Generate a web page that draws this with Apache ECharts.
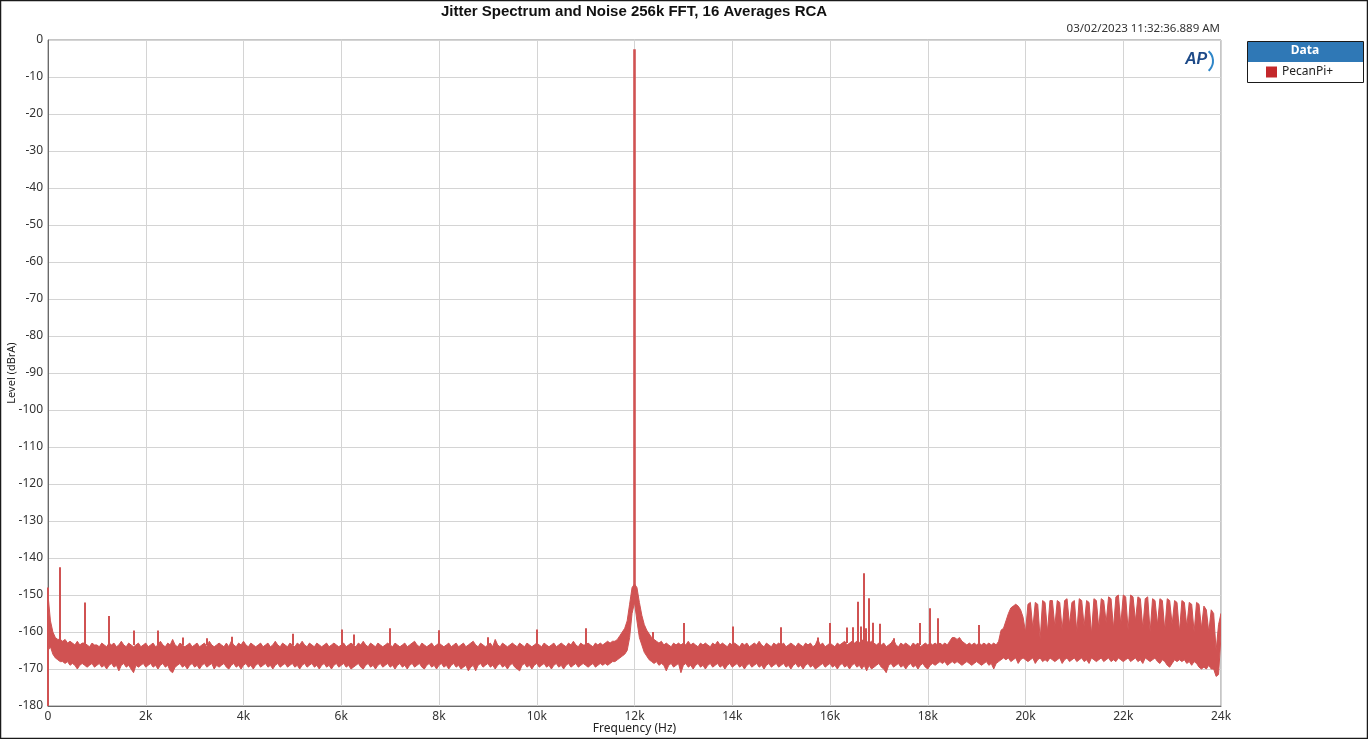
<!DOCTYPE html>
<html><head><meta charset="utf-8">
<script src="https://cdn.jsdelivr.net/npm/echarts@6/dist/echarts.min.js"></script>
<style>html,body{margin:0;padding:0;background:#fff}#c{width:1368px;height:739px}</style>
</head><body><div id="c"></div>
<script>
// ---- data ----
const FREQ_STEP_HZ = 50;   // spacing of the envelope samples below (index 0 = 0 Hz)

// upper edge of the noise floor band (dBrA)
const noiseTop = [
-150,-157,-160,-161.5,-162,-162,-162.5,-162,-163,-162.5,
-163,-163.5,-162.5,-163.5,-163,-163,-163.5,-164,-163,-163.5,
-163.5,-164,-163,-163.5,-164,-163,-163.5,-163,-164,-163.5,
-162.5,-163.5,-164,-163,-163.5,-164,-163.5,-163,-164,-163.5,
-163,-164,-163.5,-163,-164,-163.5,-162.5,-163.5,-164,-163,
-163.5,-162,-163.5,-164,-163,-163.5,-164,-163.5,-163,-164,
-163.5,-163,-164,-163.5,-163,-164,-162.5,-163.5,-164,-163.5,
-163,-163.5,-164,-163,-164,-162.5,-163.5,-164,-163,-163.5,
-162.5,-163.5,-164,-163,-163.5,-164,-163.5,-163,-164,-163.5,
-163,-164,-163.5,-162.5,-163.5,-164,-163,-163.5,-164,-163,
-163.5,-164,-163,-163.5,-162.5,-163.5,-164,-163,-163.5,-164,
-163,-163.5,-164,-163.5,-163,-164,-163.5,-163,-163.5,-164,
-163.5,-163,-164,-163.5,-163,-163.5,-164,-163,-163.5,-162.5,
-163.5,-164,-163,-163.5,-164,-163,-163.5,-164,-163.5,-163,
-163.5,-164,-163,-163.5,-164,-163.5,-163,-164,-163.5,-163,
-162.5,-163.5,-164,-163,-163.5,-164,-163.5,-163,-164,-163.5,
-163,-163.5,-164,-163.5,-163,-164,-163.5,-163,-164,-163.5,
-163,-164,-163.5,-163,-162.5,-163.5,-164,-163,-163.5,-164,
-163.5,-163,-164,-162,-163.5,-164,-163,-163.5,-164,-163.5,
-163,-163.5,-164,-163,-163.5,-164,-163,-163.5,-164,-163.5,
-163,-163.5,-164,-163,-163.5,-164,-163.5,-163,-164,-163.5,
-163,-163.5,-164,-163,-163.5,-162.5,-163.5,-164,-163,-163.5,
-163.5,-163,-163.5,-164,-163,-163.5,-163,-163.5,-163,-162.5,
-163,-162.5,-162.5,-162,-161,-160,-159,-157,-152.5,-148,
-147,-148,-152,-155.5,-158,-159.5,-160.5,-161.5,-162,-162.5,
-163,-162.5,-163.5,-163,-163.5,-164,-163,-163.5,-163,-163.5,
-163,-163.5,-162.5,-163.5,-163,-163.5,-164,-163,-163.5,-163,
-163.5,-164,-163,-163.5,-162.5,-163.5,-163,-163.5,-164,-163,
-163.5,-163,-163.5,-164,-163,-163.5,-163,-164,-163.5,-163,
-163.5,-162.5,-163.5,-164,-163,-163.5,-164,-163,-163.5,-163,
-163.5,-163,-164,-163.5,-163,-163.5,-164,-163,-163.5,-164,
-163,-163.5,-163,-164,-163.5,-162,-163.5,-163,-164,-163.5,
-163,-163.5,-164,-163,-163.5,-163,-162.5,-163.5,-163,-162.5,
-163,-162.5,-163,-162,-163,-162.5,-163,-162.5,-163,-163.5,
-163,-163.5,-163,-164,-163.5,-163,-162,-163.5,-164,-163,
-163.5,-163,-163.5,-164,-163,-163.5,-163,-164,-163.5,-163,
-163.5,-163,-163.5,-163,-163.5,-163,-163.5,-163,-163.5,-162.5,
-161.5,-161.5,-162,-161.5,-162.5,-163,-163.5,-163,-163.5,-163,
-163.5,-163,-163.5,-163,-163.5,-163,-163.5,-163,-163.5,-162.5,
-159.5,-159,-157,-155,-153.5,-153,-152.5,-153,-154,-156,
-160,-152.5,-152,-159,-152,-152.5,-162,-151.5,-152,-160,
-151.5,-151.5,-158.5,-151.5,-152,-159.5,-151.5,-151,-158,-152,
-151.5,-160,-151,-151.5,-158.5,-151.5,-152,-160.5,-151,-151.5,
-159,-151,-151.5,-157.5,-150.5,-151,-159,-150.5,-150,-158,
-150,-150.5,-159.5,-150,-150.5,-157,-150.5,-151,-159,-151,
-150.5,-160,-151,-151.5,-158,-151,-151.5,-159.5,-151,-151.5,
-158,-151.5,-152,-160,-151.5,-152,-158.5,-152,-152.5,-160,
-152,-152.5,-159,-153,-154,-160,-154,-155,-165,-158,
-155
];

// lower edge of the noise floor band (dBrA)
const noiseBottom = [
-165,-164,-166,-167,-167.5,-168,-168,-168.5,-168,-169,
-168.5,-169,-170,-169,-168.5,-169,-169.5,-169,-168.5,-169.5,
-169,-168.5,-169.5,-169,-170,-169,-168.5,-169.5,-169,-170.5,
-169,-168.5,-169.5,-169,-170,-171,-169,-169.5,-169,-168.5,
-169.5,-169,-168.5,-169.5,-169,-170,-169,-168.5,-169.5,-169,
-170.5,-171,-169.5,-169,-168.5,-169.5,-169,-170,-169,-168.5,
-169.5,-169,-170,-169,-168.5,-169.5,-169,-168.5,-170,-169,
-169.5,-169,-168.5,-169.5,-170,-169,-168.5,-169.5,-169,-170,
-169,-168.5,-169.5,-169,-170,-169,-168.5,-169.5,-169,-168.5,
-169.5,-169,-170,-169,-168.5,-169.5,-169,-168.5,-169.5,-169,
-168.5,-169.5,-169,-170,-169,-168.5,-169.5,-169,-168.5,-169.5,
-169,-170,-169,-168.5,-169.5,-169,-170,-169,-168.5,-169.5,
-169,-168.5,-169.5,-169,-170,-169.5,-169,-168.5,-169.5,-170,
-169,-168.5,-169.5,-169,-170,-169,-168.5,-169.5,-169,-168.5,
-169.5,-169,-170,-169,-168.5,-169.5,-169,-170,-169,-168.5,
-169.5,-169,-168.5,-169.5,-170,-169,-168.5,-169.5,-169,-170,
-169,-168.5,-169.5,-169,-170,-169,-168.5,-169.5,-169,-170,
-169.5,-169,-170.5,-169.5,-169,-170.5,-169,-168.5,-169.5,-169,
-168.5,-169.5,-169,-170,-169,-168.5,-169.5,-169,-170,-169,
-168.5,-169.5,-170,-170.5,-169,-168.5,-169.5,-169,-170,-169,
-168.5,-169.5,-169,-168.5,-169.5,-169,-170,-169,-168.5,-169.5,
-169,-170,-169,-168.5,-169.5,-169,-168.5,-169.5,-169,-168.5,
-169,-169.5,-169,-168.5,-169.5,-169,-168.5,-169,-168.5,-169,
-168.5,-168,-168,-167.5,-167,-166.5,-166,-165,-161.5,-155,
-152,-157,-161.5,-163.5,-165.5,-166.5,-167.5,-168,-168.5,-168,
-169,-168.5,-169,-170.5,-169,-168.5,-169.5,-169,-168.5,-171,
-169,-168.5,-169.5,-169,-170,-169,-168.5,-169.5,-169,-170,
-169,-168.5,-169.5,-169,-168.5,-169.5,-169,-170,-169,-168.5,
-169.5,-169,-168.5,-169.5,-169,-170,-169,-168.5,-169.5,-169,
-168.5,-169.5,-169,-170,-169,-168.5,-169.5,-169,-168.5,-169.5,
-169,-168.5,-169.5,-169,-170,-169,-168.5,-169.5,-169,-170,
-169,-168.5,-169.5,-169,-170,-169.5,-169,-168.5,-169.5,-169,
-168.5,-169.5,-169,-170,-169,-168.5,-169.5,-169,-170,-169,
-168.5,-169.5,-169,-170,-169,-170.5,-169,-170,-169.5,-169,
-168.5,-169.5,-170,-171,-169,-168.5,-169.5,-169,-168.5,-169.5,
-169,-170,-169,-168.5,-169.5,-169,-170,-169,-168.5,-169.5,
-170,-169,-168.5,-169,-168.5,-168,-168.5,-168,-169,-168.5,
-168,-168.5,-168,-168.5,-169,-168.5,-168,-168.5,-169,-168.5,
-168,-168.5,-169,-168.5,-168,-169,-168.5,-170,-168.5,-168,
-167.5,-167,-167.5,-167,-168,-167.5,-167,-168.5,-167.5,-167,
-167.5,-168,-167.5,-167,-168.5,-167.5,-167,-168,-167.5,-168,
-167,-167.5,-168,-167.5,-167,-168.5,-167.5,-167,-168,-167.5,
-167,-168,-167.5,-167,-168,-167.5,-168.5,-167,-167.5,-168,
-167.5,-167,-168,-167.5,-167,-168,-167.5,-168,-167,-167.5,
-168,-167.5,-167,-168,-167.5,-167,-168,-167.5,-168.5,-167,
-167.5,-168,-167.5,-167,-168,-168.5,-167.5,-168,-169,-169.5,
-168.5,-167.5,-168,-167.5,-168,-167.5,-168.5,-168,-169,-168,
-168.5,-169.5,-170,-169.5,-170,-169,-170,-170,-172,-171.5,
-161
];

// discrete tones: frequency (Hz), peak (dBrA), base on the noise floor (dBrA)
const spikeFreqs = [0,250,750,1250,1750,2250,2750,3250,3750,5000,6000,6250,7000,8000,9000,10000,11000,12000,12375,13000,14000,15000,15750,16000,16350,16470,16570,16630,16690,16740,16800,16870,17020,17300,17840,18050,18210,19050];
const spikePeaks = [-148,-142.5,-152,-155.7,-159.6,-159.6,-161.5,-161.7,-161.3,-160.5,-159.3,-160.7,-159,-159.5,-161.4,-159.3,-159,-2.5,-160,-157.6,-158.5,-158.7,-161.5,-157.6,-158.8,-158.7,-151.8,-158.5,-144.1,-159,-150.9,-157.5,-157.8,-161.7,-157.6,-153.6,-156.3,-158.1];
const spikeBases = [-180,-163,-163.5,-163.5,-163.5,-163.5,-163.5,-163.5,-163.5,-163.5,-163.5,-163.5,-163.5,-163.5,-163.5,-163.5,-163.5,-150,-162.5,-163.5,-163.5,-163.5,-163.5,-163.5,-163,-163,-163,-163,-163,-163,-163,-163,-163.5,-163.5,-163.5,-163.5,-163.5,-163.5];

const xTickLabels = ['0','2k','4k','6k','8k','10k','12k','14k','16k','18k','20k','22k','24k'];
const titleText = 'Jitter Spectrum and Noise 256k FFT, 16 Averages RCA';
const timestampText = '03/02/2023 11:32:36.889 AM';
const seriesName = 'PecanPi+';
const legendTitle = 'Data';

// ---- chart ----
const RED = '#d05252';
const LEG_RED = '#c3282b';
const FONT = '"Noto Sans", "Open Sans", sans-serif';
const n = Math.min(noiseTop.length, noiseBottom.length);
const topData = [], bottomData = [];
for (let i = 0; i < n; i++) {
  topData.push([i * FREQ_STEP_HZ, noiseTop[i]]);
  bottomData.push([i * FREQ_STEP_HZ, noiseBottom[i]]);
}
const spikeData = spikeFreqs.map((f, i) => ({
  coords: [[f, spikeBases[i]], [f, spikePeaks[i]]],
  lineStyle: { width: f === 12000 ? 2.6 : 2 }
}));

function renderBand(params, api) {
  const pts = [];
  for (let i = 0; i < n; i++) pts.push(api.coord(topData[i]));
  for (let i = n - 1; i >= 0; i--) pts.push(api.coord(bottomData[i]));
  return { type: 'polygon', shape: { points: pts }, style: { fill: RED, stroke: RED, lineWidth: 1 } };
}

const chart = echarts.init(document.getElementById('c'), null, { renderer: 'canvas' });
chart.setOption({
  animation: false,
  backgroundColor: '#ffffff',
  grid: { left: 48, right: 147, top: 40, bottom: 33, outerBoundsMode: 'none', containLabel: false,
          show: true, borderColor: '#8c8c8c', borderWidth: 1, backgroundColor: 'transparent' },
  xAxis: {
    type: 'value', min: 0, max: 24000, interval: 2000,
    axisLine: { show: true, onZero: false, lineStyle: { color: '#6a6a6a', width: 1 } },
    axisTick: { show: false },
    axisLabel: { formatter: v => xTickLabels[Math.round(v / 2000)], color: '#333', fontSize: 12, fontFamily: FONT, margin: 5 },
    splitLine: { show: true, lineStyle: { color: '#d4d4d4', width: 1 } },
    name: 'Frequency (Hz)', nameLocation: 'middle', nameGap: 17, nameMoveOverlap: false,
    nameTextStyle: { color: '#222', fontSize: 12, fontFamily: FONT, verticalAlign: 'top' }
  },
  yAxis: {
    type: 'value', min: -180, max: 0, interval: 10,
    axisLine: { show: true, onZero: false, lineStyle: { color: '#6a6a6a', width: 1 } },
    axisTick: { show: false },
    axisLabel: { color: '#333', fontSize: 12, fontFamily: FONT, margin: 5 },
    splitLine: { show: true, lineStyle: { color: '#d4d4d4', width: 1 } },
    name: 'Level (dBrA)', nameLocation: 'middle', nameGap: 31, nameRotate: 90, nameMoveOverlap: false,
    nameTextStyle: { color: '#222', fontSize: 11, fontFamily: FONT }
  },
  legend: {
    data: [{ name: seriesName, icon: 'rect', itemStyle: { color: LEG_RED } }],
    left: 1266, top: 66, itemWidth: 11, itemHeight: 11, itemGap: 4, padding: 0,
    selectedMode: false,
    textStyle: { color: '#222', fontSize: 12, fontFamily: FONT }
  },
  series: [
    { name: seriesName, type: 'custom', renderItem: renderBand, data: [0], z: 3, silent: true,
      itemStyle: { color: RED }, clip: true },
    { name: 'tones', type: 'lines', coordinateSystem: 'cartesian2d', polyline: false, silent: true, z: 4,
      lineStyle: { color: RED, width: 2, opacity: 1 }, data: spikeData }
  ],
  graphic: [
    { type: 'rect', shape: { x: 0.5, y: 0.5, width: 1367, height: 738 }, style: { fill: 'none', stroke: '#1a1a1a', lineWidth: 1.5 }, silent: true },
    { type: 'text', x: 634, y: 4, style: { text: titleText, fill: '#111', font: 'bold 15px "Liberation Sans", Arial, sans-serif', textAlign: 'center' } },
    { type: 'text', x: 1220, y: 23, style: { text: timestampText, fill: '#333', font: '11.5px "Noto Sans", sans-serif', textAlign: 'right' } },
    { type: 'rect', shape: { x: 1247.5, y: 41.5, width: 116, height: 41 }, style: { fill: '#fff', stroke: '#1a1a1a', lineWidth: 1 }, z: 1 },
    { type: 'rect', shape: { x: 1248, y: 42, width: 115, height: 20 }, style: { fill: '#2f78b6' }, z: 2 },
    { type: 'text', x: 1305, y: 45, style: { text: legendTitle, fill: '#fff', font: 'bold 12px "Noto Sans", sans-serif', textAlign: 'center' }, z: 3 },
    { type: 'text', x: 1185, y: 52, style: { text: 'AP', fill: '#1d4a88', font: 'italic bold 16px "Liberation Sans", Arial, sans-serif' }, z: 5 },
    { type: 'arc', shape: { cx: 1200, cy: 61, r: 13, startAngle: -0.85, endAngle: 0.85 }, style: { stroke: '#2f86c8', lineWidth: 2, fill: 'none' }, z: 5 }
  ]
});
</script></body></html>
